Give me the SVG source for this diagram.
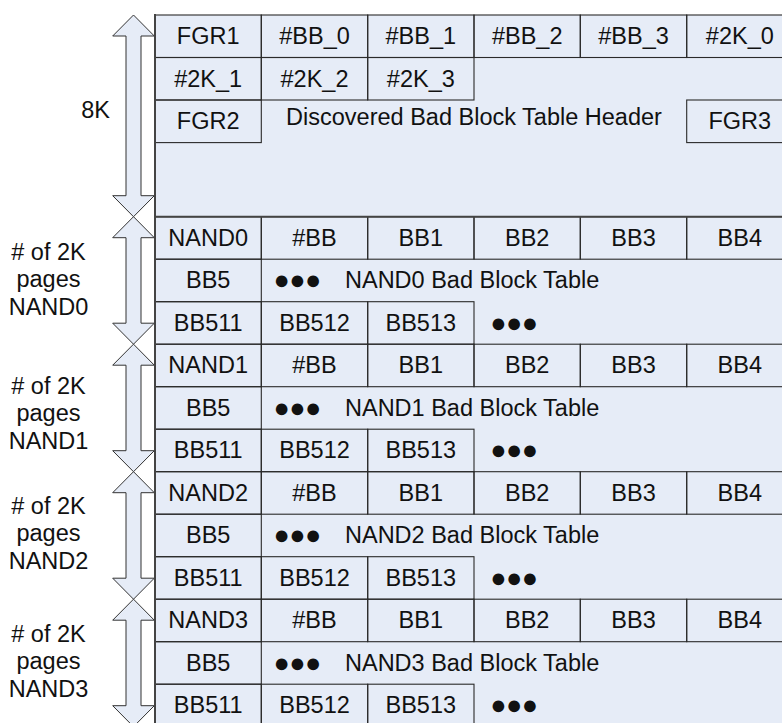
<svg xmlns="http://www.w3.org/2000/svg" width="782" height="723" viewBox="0 0 782 723">
<style>
.bg{fill:#E6ECF7;stroke:none}
.c{fill:none;stroke:#2a2a2a;stroke-width:1.1}
.t{font-family:"Liberation Sans",Arial,Helvetica,sans-serif;font-size:23.5px;fill:#111;text-anchor:middle}
.s{text-anchor:start}
.d{font-family:"Liberation Sans",Arial,sans-serif;font-size:27px;letter-spacing:-0.6px;fill:#111}
.arr{fill:#E6ECF7;stroke:#333;stroke-width:1}
.b{stroke:#444;stroke-width:2;fill:none}
</style>
<rect class="bg" x="155" y="15" width="640" height="720"/>
<g id="labels">
<text class="t" x="110" y="118.3" style="text-anchor:end">8K</text>
<text class="t" x="48.5" y="260">
<tspan x="48.5" y="260"># of 2K</tspan><tspan x="48.5" y="287.4">pages</tspan><tspan x="48.5" y="314.8">NAND0</tspan></text>
<text class="t" x="48.5" y="394"><tspan x="48.5" y="394"># of 2K</tspan><tspan x="48.5" y="421.4">pages</tspan><tspan x="48.5" y="448.8">NAND1</tspan></text>
<text class="t" x="48.5" y="514"><tspan x="48.5" y="514"># of 2K</tspan><tspan x="48.5" y="541.4">pages</tspan><tspan x="48.5" y="568.8">NAND2</tspan></text>
<text class="t" x="48.5" y="641.7"><tspan x="48.5" y="641.7"># of 2K</tspan><tspan x="48.5" y="669.1">pages</tspan><tspan x="48.5" y="696.5">NAND3</tspan></text>
</g>
<g id="connectors">
<path class="arr" d="M133.5,15 L154.3,36 L141,36 L141,195.7 L154.3,195.7 L133.5,216.7 L112.7,195.7 L126,195.7 L126,36 L112.7,36 Z"/>
<path class="arr" d="M133.5,216.7 L154.3,237.7 L141,237.7 L141,323.2 L154.3,323.2 L133.5,344.2 L112.7,323.2 L126,323.2 L126,237.7 L112.7,237.7 Z"/>
<path class="arr" d="M133.5,344.2 L154.3,365.2 L141,365.2 L141,450.7 L154.3,450.7 L133.5,471.7 L112.7,450.7 L126,450.7 L126,365.2 L112.7,365.2 Z"/>
<path class="arr" d="M133.5,471.7 L154.3,492.7 L141,492.7 L141,578.2 L154.3,578.2 L133.5,599.2 L112.7,578.2 L126,578.2 L126,492.7 L112.7,492.7 Z"/>
<path class="arr" d="M133.5,599.2 L154.3,620.2 L141,620.2 L141,705.7 L154.3,705.7 L133.5,726.7 L112.7,705.7 L126,705.7 L126,620.2 L112.7,620.2 Z"/>
</g>
<g id="header">
<g id="fgr1"><rect class="c" x="155" y="15" width="106.3" height="42.5"/><text class="t" x="208.2" y="44">FGR1</text></g>
<g id="bb_0"><rect class="c" x="261.3" y="15" width="106.4" height="42.5"/><text class="t" x="314.5" y="44">#BB_0</text></g>
<g id="bb_1"><rect class="c" x="367.7" y="15" width="106.3" height="42.5"/><text class="t" x="420.8" y="44">#BB_1</text></g>
<g id="bb_2"><rect class="c" x="474" y="15" width="106.3" height="42.5"/><text class="t" x="527.2" y="44">#BB_2</text></g>
<g id="bb_3"><rect class="c" x="580.3" y="15" width="106.4" height="42.5"/><text class="t" x="633.5" y="44">#BB_3</text></g>
<g id="k2_0"><rect class="c" x="686.7" y="15" width="106.3" height="42.5"/><text class="t" x="739.8" y="44">#2K_0</text></g>
<g id="k2_1"><rect class="c" x="155" y="57.5" width="106.3" height="42.5"/><text class="t" x="208.2" y="86.5">#2K_1</text></g>
<g id="k2_2"><rect class="c" x="261.3" y="57.5" width="106.4" height="42.5"/><text class="t" x="314.5" y="86.5">#2K_2</text></g>
<g id="k2_3"><rect class="c" x="367.7" y="57.5" width="106.3" height="42.5"/><text class="t" x="420.8" y="86.5">#2K_3</text></g>
<g id="fgr2"><rect class="c" x="155" y="100" width="106.3" height="42.6"/><text class="t" x="208.2" y="129">FGR2</text></g>
<g id="title"><text class="t" x="474" y="125">Discovered Bad Block Table Header</text></g>
<g id="fgr3"><rect class="c" x="686.7" y="100" width="106.3" height="42.6"/><text class="t" x="739.8" y="129">FGR3</text></g>
</g>
<g id="nand0">
<g id="n0_name"><rect class="c" x="155" y="216.7" width="106.3" height="42.5"/><text class="t" x="208.2" y="245.7">NAND0</text></g>
<g id="n0_bbn"><rect class="c" x="261.3" y="216.7" width="106.4" height="42.5"/><text class="t" x="314.5" y="245.7">#BB</text></g>
<g id="n0_bb1"><rect class="c" x="367.7" y="216.7" width="106.3" height="42.5"/><text class="t" x="420.8" y="245.7">BB1</text></g>
<g id="n0_bb2"><rect class="c" x="474" y="216.7" width="106.3" height="42.5"/><text class="t" x="527.2" y="245.7">BB2</text></g>
<g id="n0_bb3"><rect class="c" x="580.3" y="216.7" width="106.4" height="42.5"/><text class="t" x="633.5" y="245.7">BB3</text></g>
<g id="n0_bb4"><rect class="c" x="686.7" y="216.7" width="106.3" height="42.5"/><text class="t" x="739.8" y="245.7">BB4</text></g>
<g id="n0_bb5"><rect class="c" x="155" y="259.2" width="106.3" height="42.5"/><text class="t" x="208.2" y="288.2">BB5</text></g>
<g id="n0_tab"><text class="d" x="273.5" y="289.3">●●●</text><text class="t s" x="345" y="288.2">NAND0 Bad Block Table</text></g>
<g id="n0_bb511"><rect class="c" x="155" y="301.7" width="106.3" height="42.5"/><text class="t" x="208.2" y="330.7">BB511</text></g>
<g id="n0_bb512"><rect class="c" x="261.3" y="301.7" width="106.4" height="42.5"/><text class="t" x="314.5" y="330.7">BB512</text></g>
<g id="n0_bb513"><rect class="c" x="367.7" y="301.7" width="106.3" height="42.5"/><text class="t" x="420.8" y="330.7">BB513</text></g>
<g id="n0_more"><text class="d" x="490.3" y="331.9">●●●</text></g>
</g>
<g id="nand1">
<g id="n1_name"><rect class="c" x="155" y="344.2" width="106.3" height="42.5"/><text class="t" x="208.2" y="373.2">NAND1</text></g>
<g id="n1_bbn"><rect class="c" x="261.3" y="344.2" width="106.4" height="42.5"/><text class="t" x="314.5" y="373.2">#BB</text></g>
<g id="n1_bb1"><rect class="c" x="367.7" y="344.2" width="106.3" height="42.5"/><text class="t" x="420.8" y="373.2">BB1</text></g>
<g id="n1_bb2"><rect class="c" x="474" y="344.2" width="106.3" height="42.5"/><text class="t" x="527.2" y="373.2">BB2</text></g>
<g id="n1_bb3"><rect class="c" x="580.3" y="344.2" width="106.4" height="42.5"/><text class="t" x="633.5" y="373.2">BB3</text></g>
<g id="n1_bb4"><rect class="c" x="686.7" y="344.2" width="106.3" height="42.5"/><text class="t" x="739.8" y="373.2">BB4</text></g>
<g id="n1_bb5"><rect class="c" x="155" y="386.7" width="106.3" height="42.5"/><text class="t" x="208.2" y="415.7">BB5</text></g>
<g id="n1_tab"><text class="d" x="273.5" y="416.8">●●●</text><text class="t s" x="345" y="415.7">NAND1 Bad Block Table</text></g>
<g id="n1_bb511"><rect class="c" x="155" y="429.2" width="106.3" height="42.5"/><text class="t" x="208.2" y="458.2">BB511</text></g>
<g id="n1_bb512"><rect class="c" x="261.3" y="429.2" width="106.4" height="42.5"/><text class="t" x="314.5" y="458.2">BB512</text></g>
<g id="n1_bb513"><rect class="c" x="367.7" y="429.2" width="106.3" height="42.5"/><text class="t" x="420.8" y="458.2">BB513</text></g>
<g id="n1_more"><text class="d" x="490.3" y="459.4">●●●</text></g>
</g>
<g id="nand2">
<g id="n2_name"><rect class="c" x="155" y="471.7" width="106.3" height="42.5"/><text class="t" x="208.2" y="500.7">NAND2</text></g>
<g id="n2_bbn"><rect class="c" x="261.3" y="471.7" width="106.4" height="42.5"/><text class="t" x="314.5" y="500.7">#BB</text></g>
<g id="n2_bb1"><rect class="c" x="367.7" y="471.7" width="106.3" height="42.5"/><text class="t" x="420.8" y="500.7">BB1</text></g>
<g id="n2_bb2"><rect class="c" x="474" y="471.7" width="106.3" height="42.5"/><text class="t" x="527.2" y="500.7">BB2</text></g>
<g id="n2_bb3"><rect class="c" x="580.3" y="471.7" width="106.4" height="42.5"/><text class="t" x="633.5" y="500.7">BB3</text></g>
<g id="n2_bb4"><rect class="c" x="686.7" y="471.7" width="106.3" height="42.5"/><text class="t" x="739.8" y="500.7">BB4</text></g>
<g id="n2_bb5"><rect class="c" x="155" y="514.2" width="106.3" height="42.5"/><text class="t" x="208.2" y="543.2">BB5</text></g>
<g id="n2_tab"><text class="d" x="273.5" y="544.3">●●●</text><text class="t s" x="345" y="543.2">NAND2 Bad Block Table</text></g>
<g id="n2_bb511"><rect class="c" x="155" y="556.7" width="106.3" height="42.5"/><text class="t" x="208.2" y="585.7">BB511</text></g>
<g id="n2_bb512"><rect class="c" x="261.3" y="556.7" width="106.4" height="42.5"/><text class="t" x="314.5" y="585.7">BB512</text></g>
<g id="n2_bb513"><rect class="c" x="367.7" y="556.7" width="106.3" height="42.5"/><text class="t" x="420.8" y="585.7">BB513</text></g>
<g id="n2_more"><text class="d" x="490.3" y="586.9">●●●</text></g>
</g>
<g id="nand3">
<g id="n3_name"><rect class="c" x="155" y="599.2" width="106.3" height="42.5"/><text class="t" x="208.2" y="628.2">NAND3</text></g>
<g id="n3_bbn"><rect class="c" x="261.3" y="599.2" width="106.4" height="42.5"/><text class="t" x="314.5" y="628.2">#BB</text></g>
<g id="n3_bb1"><rect class="c" x="367.7" y="599.2" width="106.3" height="42.5"/><text class="t" x="420.8" y="628.2">BB1</text></g>
<g id="n3_bb2"><rect class="c" x="474" y="599.2" width="106.3" height="42.5"/><text class="t" x="527.2" y="628.2">BB2</text></g>
<g id="n3_bb3"><rect class="c" x="580.3" y="599.2" width="106.4" height="42.5"/><text class="t" x="633.5" y="628.2">BB3</text></g>
<g id="n3_bb4"><rect class="c" x="686.7" y="599.2" width="106.3" height="42.5"/><text class="t" x="739.8" y="628.2">BB4</text></g>
<g id="n3_bb5"><rect class="c" x="155" y="641.7" width="106.3" height="42.5"/><text class="t" x="208.2" y="670.7">BB5</text></g>
<g id="n3_tab"><text class="d" x="273.5" y="671.8">●●●</text><text class="t s" x="345" y="670.7">NAND3 Bad Block Table</text></g>
<g id="n3_bb511"><rect class="c" x="155" y="684.2" width="106.3" height="42.5"/><text class="t" x="208.2" y="713.2">BB511</text></g>
<g id="n3_bb512"><rect class="c" x="261.3" y="684.2" width="106.4" height="42.5"/><text class="t" x="314.5" y="713.2">BB512</text></g>
<g id="n3_bb513"><rect class="c" x="367.7" y="684.2" width="106.3" height="42.5"/><text class="t" x="420.8" y="713.2">BB513</text></g>
<g id="n3_more"><text class="d" x="490.3" y="714.4">●●●</text></g>
</g>
<g id="borders">
<line class="b" x1="155" y1="14" x2="155" y2="723"/>
<line class="b" x1="155" y1="216.7" x2="782" y2="216.7"/>
</g>
</svg>
